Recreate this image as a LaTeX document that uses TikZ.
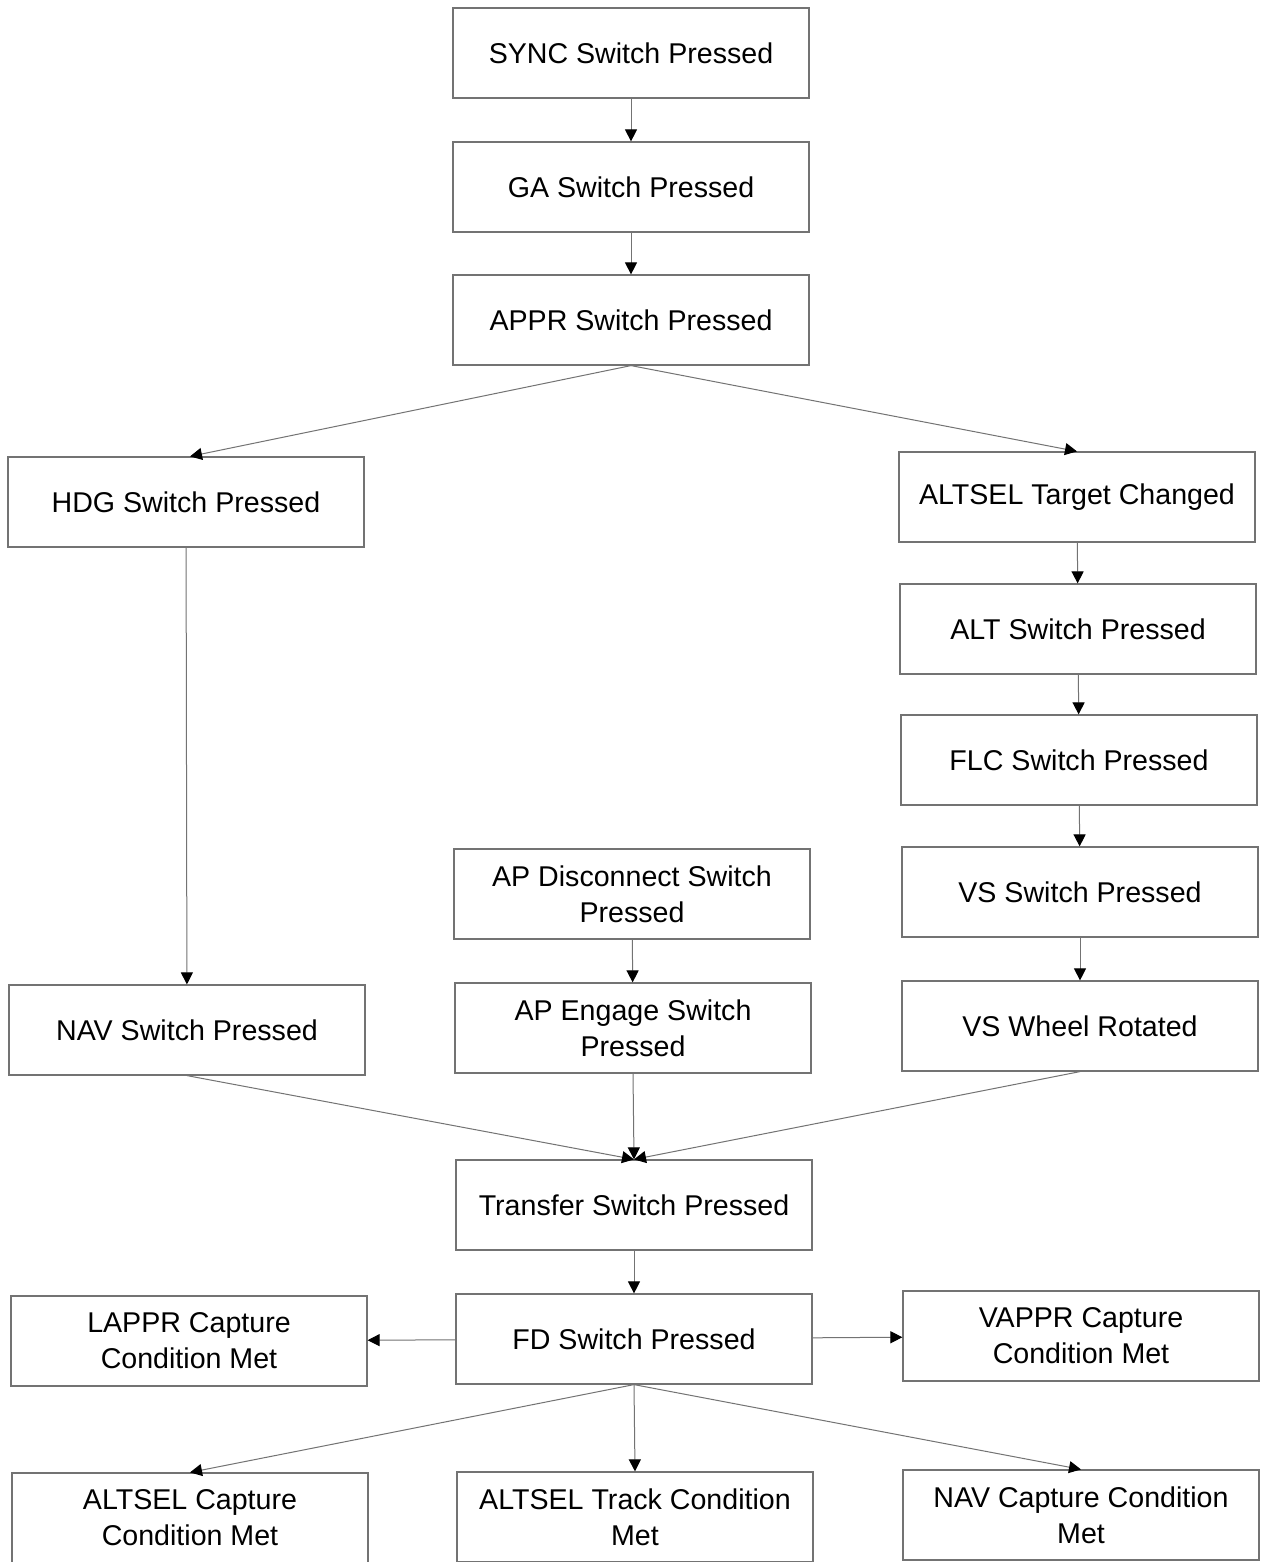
\documentclass[tikz,border=0pt]{standalone}
\usepackage{fontspec}
\setmainfont{Liberation Sans}
\usetikzlibrary{arrows.meta}
\tikzset{
  box/.style={draw=black!55, line width=0.6pt, rectangle, minimum width=178pt, minimum height=45pt,
    align=center, inner sep=2pt, font=\fontsize{14.3}{18}\selectfont, text=black},
  flow/.style={draw=black!55, line width=0.5pt, -{Triangle[length=6pt,width=6pt,color=black]}}
}
\begin{document}
\begin{tikzpicture}[x=0.5pt,y=-0.5pt]
\useasboundingbox (0,0) rectangle (1267,1562);
\fill[white] (0,0) rectangle (1267,1562);
% main column
\node[box] (sync) at (631,53) {SYNC Switch Pressed};
\node[box] (ga) at (631,187) {GA Switch Pressed};
\node[box] (appr) at (631,320) {APPR Switch Pressed};
% lateral branch
\node[box] (hdg) at (186,502) {HDG Switch Pressed};
\node[box] (nav) at (187,1030) {NAV Switch Pressed};
% vertical branch
\node[box] (altsel) at (1077,497) {ALTSEL Target Changed};
\node[box] (alt) at (1078,629) {ALT Switch Pressed};
\node[box] (flc) at (1079,760) {FLC Switch Pressed};
\node[box] (vs) at (1080,892) {VS Switch Pressed};
\node[box] (vsw) at (1080,1026) {VS Wheel Rotated};
% autopilot
\node[box] (apd) at (632,894) {AP Disconnect Switch\\Pressed};
\node[box] (ape) at (633,1028) {AP Engage Switch\\Pressed};
% transfer and FD
\node[box] (xfer) at (634,1205) {Transfer Switch Pressed};
\node[box] (fd) at (634,1339) {FD Switch Pressed};
\node[box] (lappr) at (189,1341) {LAPPR Capture\\Condition Met};
\node[box] (vappr) at (1081,1336) {VAPPR Capture\\Condition Met};
% capture conditions
\node[box] (altcap) at (190,1518) {ALTSEL Capture\\Condition Met};
\node[box] (alttrk) at (635,1517) {ALTSEL Track Condition\\Met};
\node[box] (navcap) at (1081,1515) {NAV Capture Condition\\Met};

\draw[flow] (sync) -- (ga);
\draw[flow] (ga) -- (appr);
\draw[flow] (appr.south) -- ([xshift=2pt]hdg.north);
\draw[flow] (appr.south) -- (altsel.north);
\draw[flow] (hdg) -- (nav);
\draw[flow] (altsel) -- (alt);
\draw[flow] (alt) -- (flc);
\draw[flow] (flc) -- (vs);
\draw[flow] (vs) -- (vsw);
\draw[flow] (apd) -- (ape);
\draw[flow] (nav.south) -- (xfer.north);
\draw[flow] (ape.south) -- (xfer.north);
\draw[flow] (vsw.south) -- (xfer.north);
\draw[flow] (xfer) -- (fd);
\draw[flow] (fd) -- (lappr);
\draw[flow] (fd) -- (vappr);
\draw[flow] (fd.south) -- (altcap.north);
\draw[flow] (fd.south) -- (alttrk.north);
\draw[flow] (fd.south) -- (navcap.north);
\end{tikzpicture}
\end{document}
